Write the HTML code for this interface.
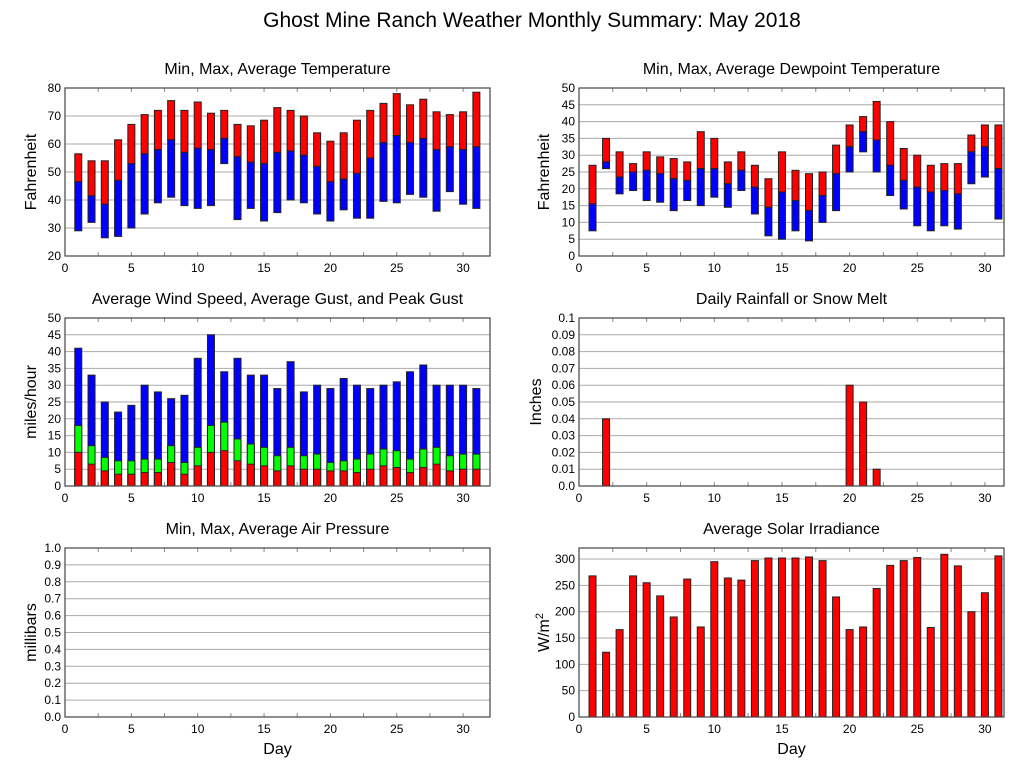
<!DOCTYPE html>
<html><head><meta charset="utf-8"><style>
body{margin:0;background:#fff;}
svg{display:block;font-family:"Liberation Sans",sans-serif;}
</style></head><body>
<svg id="chart" width="1027" height="772">
<text x="532" y="27" font-size="21" text-anchor="middle">Ghost Mine Ranch Weather Monthly Summary: May 2018</text>
</svg>
<script>
const days=[1,2,3,4,5,6,7,8,9,10,11,12,13,14,15,16,17,18,19,20,21,22,23,24,25,26,27,28,29,30,31];
const tempMax=[56.5,54,54,61.5,67,70.5,72,75.5,72,75,71,72,67,66.5,68.5,73,72,70,64,61,64,68.5,72,74.5,78,74,76,71.5,70.5,71.5,78.5];
const tempAvg=[46.5,41.5,38.5,47,53,56.5,58,61.5,57,58.5,58,62,55.5,53.5,53,57,57.5,56,52,46.5,47.5,49.5,55,60.5,63,60.5,62,58,59,58,59];
const tempMin=[29,32,26.5,27,30,35,39,41,38,37,38,53,33,37,32.5,35.5,40,39,35,32.5,36.5,33.5,33.5,39.5,39,42,41,36,43,38.5,37];
const dewMax=[27,35,31,27.5,31,29.5,29,28,37,35,28,31,27,23,31,25.5,24.5,25,33,39,41.5,46,40,32,30,27,27.5,27.5,36,39,39];
const dewAvg=[15.5,28,23.5,25,25.5,24.5,23,22.5,26,26,21.5,25.5,20.5,14.5,19,16.5,13.5,18,24.5,32.5,37,34.5,27,22.5,20.5,19,19.5,18.5,31,32.5,26];
const dewMin=[7.5,26,18.5,19.5,16.5,16,13.5,16.5,15,17.5,14.5,19.5,12.5,6,5,7.5,4.5,10,13.5,25,31,25,18,14,9,7.5,9,8,21.5,23.5,11];
const windPeak=[41,33,25,22,24,30,28,26,27,38,45,34,38,33,33,29,37,28,30,29,32,30,29,30,31,34,36,30,30,30,29];
const windGust=[18,12,8.5,7.5,7.5,8,8,12,7,11.5,18,19,14,12.5,11.5,9,11.5,9,9.5,7,7.5,8,9.5,11,10.5,8,11,11.5,9,9.5,9.5];
const windAvg=[10,6.5,4.5,3.5,3.5,4,4,7,3.5,6,10,10.5,7.5,6.5,6,4.5,6,5,5,4.5,4.5,4,5,6,5.5,4,5.5,6.5,4.5,5,5];
const rainDays=[2,20,21,22];
const rainVals=[0.04,0.06,0.05,0.01];
const solar=[268,123,166,268,255,230,190,262,171,295,264,260,297,302,302,302,304,297,228,166,171,244,288,297,303,170,309,287,200,236,306];

const svg=document.getElementById('chart');
const NS='http://www.w3.org/2000/svg';
function el(tag,attrs,parent){const e=document.createElementNS(NS,tag);for(const k in attrs)e.setAttribute(k,attrs[k]);(parent||svg).appendChild(e);return e;}

function panel(cfg){
  const g=el('g',{});
  
  
  const L=cfg.left,R=cfg.right,T=cfg.top,B=cfg.bottom;
  const xs=d=>L+d*cfg.xscale;
  const ys=v=>B-(v-cfg.ymin)/(cfg.ymax-cfg.ymin)*(B-T);
  for(let i=0;i<cfg.yticks.length;i++){
    const v=cfg.yticks[i],y=ys(v);
    const gl=el('line',{x1:L,x2:R,y1:y,y2:y,stroke:'#aaa','stroke-width':1},g);
    
    
    const t=el('text',{x:L-4,y:y+4,'font-size':12,'text-anchor':'end'},g);
    
    
    t.textContent=cfg.ylabels[i];
  }
  for(let d=0;d<=30;d+=2.5){
    const x=xs(d);
    el('line',{x1:x,x2:x,y1:B,y2:B-4,stroke:'#888'},g);
    el('line',{x1:x,x2:x,y1:T,y2:T+4,stroke:'#888'},g);
    if(d%5===0){
      const t=el('text',{x:x,y:B+16,'font-size':12,'text-anchor':'middle'},g);
      
      
      t.textContent=d;
    }
  }
  const tt=el('text',{x:(L+R)/2,y:T-14,'font-size':16,'text-anchor':'middle'},g);
  
  
  tt.textContent=cfg.title;
  const off=cfg.yoff||29;
  const ya=el('text',{x:0,y:0,'font-size':16,'text-anchor':'middle',transform:`translate(${L-off},${(T+B)/2}) rotate(-90)`},g);
  
  
  if(cfg.ytitleHTML){ya.innerHTML=cfg.ytitleHTML;}else ya.textContent=cfg.ytitle;
  if(cfg.xtitle){
    const xa=el('text',{x:(L+R)/2,y:B+37,'font-size':16,'text-anchor':'middle'},g);
    
    
    xa.textContent='Day';
  }
  const bars=el('g',{},g);
  
  
  const frame=el('rect',{x:L,y:T,width:R-L,height:B-T,fill:'none',stroke:'#444','stroke-width':1.2},g);
  
  
  return {xs,ys,g:bars};
}
function bar(p,d,v0,v1,color,name){
  const w=7,x=p.xs(d)-w/2,y0=p.ys(v0),y1=p.ys(v1);
  const r=el('rect',{x:x,y:Math.min(y0,y1),width:w,height:Math.abs(y0-y1),fill:color,stroke:'#222','stroke-width':1},p.g);
  
  
}
const rng=(a,b,s)=>{const o=[];for(let v=a;v<=b+1e-9;v+=s)o.push(+v.toFixed(3));return o;};

let t1=rng(20,80,10);
let p=panel({name:'temperature-panel',left:65,right:490,top:88,bottom:256,xscale:13.27,ymin:20,ymax:80,yticks:t1,ylabels:t1,title:'Min, Max, Average Temperature',ytitle:'Fahrenheit',yoff:29});
days.forEach((d,i)=>{bar(p,d,tempAvg[i],tempMax[i],'#ff0000','temp-max-bar');bar(p,d,tempMin[i],tempAvg[i],'#0000ff','temp-min-bar');});

let t2=rng(0,50,5);
p=panel({name:'dewpoint-panel',left:579,right:1004,top:88,bottom:256,xscale:13.53,ymin:0,ymax:50,yticks:t2,ylabels:t2,title:'Min, Max, Average Dewpoint Temperature',ytitle:'Fahrenheit',yoff:30});
days.forEach((d,i)=>{bar(p,d,dewAvg[i],dewMax[i],'#ff0000','dew-max-bar');bar(p,d,dewMin[i],dewAvg[i],'#0000ff','dew-min-bar');});

p=panel({name:'wind-panel',left:65,right:490,top:318,bottom:486,xscale:13.27,ymin:0,ymax:50,yticks:t2,ylabels:t2,title:'Average Wind Speed, Average Gust, and Peak Gust',ytitle:'miles/hour',yoff:29});
days.forEach((d,i)=>{bar(p,d,0,windPeak[i],'#0000ff','wind-peak-bar');bar(p,d,0,windGust[i],'#00ff00','wind-gust-bar');bar(p,d,0,windAvg[i],'#ff0000','wind-avg-bar');});

let t3=rng(0,0.1,0.01);
p=panel({name:'rain-panel',left:579,right:1004,top:318,bottom:486,xscale:13.53,ymin:0,ymax:0.1,yticks:t3,ylabels:t3.map(v=>v===0?'0.0':(v===0.1?'0.1':v.toFixed(2))),title:'Daily Rainfall or Snow Melt',ytitle:'Inches',yoff:38});
rainDays.forEach((d,i)=>bar(p,d,0,rainVals[i],'#ff0000','rain-bar'));

let t4=rng(0,1,0.1);
p=panel({name:'pressure-panel',left:65,right:490,top:548,bottom:717,xscale:13.27,ymin:0,ymax:1,yticks:t4,ylabels:t4.map(v=>v.toFixed(1)),title:'Min, Max, Average Air Pressure',ytitle:'millibars',xtitle:true,yoff:29});

let t5=rng(0,300,50);
p=panel({name:'solar-panel',left:579,right:1004,top:548,bottom:717,xscale:13.53,ymin:0,ymax:321,yticks:t5,ylabels:t5,title:'Average Solar Irradiance',ytitleHTML:'W/m<tspan dy="-6" font-size="11">2</tspan>',xtitle:true,yoff:30});
days.forEach((d,i)=>bar(p,d,0,solar[i],'#ff0000','solar-bar'));
</script>
</body></html>
